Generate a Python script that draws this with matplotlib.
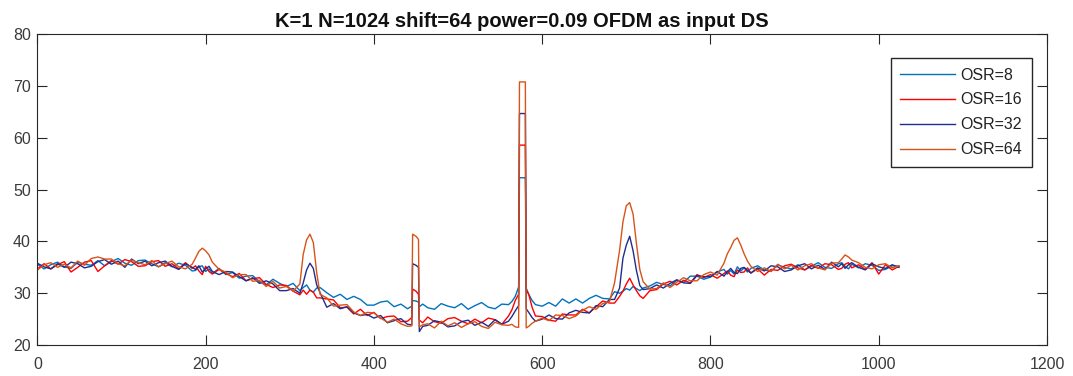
import matplotlib
matplotlib.use("Agg")
import matplotlib.pyplot as plt


# ---------------- DATA ---------------- #

sample_idx = [
    1, 8, 16, 24, 32, 40, 48, 56,
    64, 72, 80, 88, 96, 104, 112, 120,
    128, 136, 144, 152, 160, 168, 176, 184,
    188, 192, 196, 200, 204, 208, 216, 224,
    232, 240, 248, 256, 264, 272, 280, 288,
    296, 304, 312, 316, 320, 324, 328, 332,
    336, 344, 352, 360, 368, 376, 384, 392,
    400, 408, 416, 424, 432, 440, 445, 446,
    450, 453, 454, 458, 464, 472, 480, 488,
    496, 504, 512, 520, 528, 536, 544, 552,
    560, 564, 568, 572, 573, 577, 580, 581,
    584, 588, 592, 600, 608, 616, 624, 632,
    640, 648, 656, 664, 672, 680, 686, 692,
    696, 700, 704, 708, 712, 716, 720, 728,
    736, 744, 752, 760, 768, 776, 784, 792,
    800, 808, 816, 820, 824, 828, 832, 836,
    840, 844, 848, 856, 864, 872, 880, 888,
    896, 904, 912, 920, 928, 936, 944, 952,
    956, 960, 964, 968, 976, 984, 992, 1000,
    1008, 1016, 1024,
]

osr8 = [
    35.5, 34.7, 35.5, 36.0, 35.1, 34.8, 36.0, 35.6,
    35.4, 36.3, 35.3, 36.1, 36.7, 35.8, 35.4, 36.3,
    36.4, 35.7, 35.1, 35.9, 35.1, 35.8, 35.4, 34.3,
    34.4, 35.1, 35.3, 34.2, 34.7, 33.8, 34.8, 33.6,
    34.0, 32.9, 33.3, 33.4, 32.2, 31.6, 32.7, 31.9,
    31.3, 31.9, 30.5, 31.1, 31.6, 30.6, 30.2, 31.0,
    31.1, 30.1, 29.2, 29.8, 28.8, 29.4, 28.8, 27.7,
    27.7, 28.3, 28.5, 27.4, 27.9, 27.0, 27.5, 28.6,
    28.5, 28.3, 27.4, 27.9, 27.2, 26.9, 28.0, 27.5,
    27.2, 28.0, 26.9, 27.6, 28.2, 27.3, 27.0, 27.9,
    27.8, 28.4, 29.4, 31.2, 52.3, 52.3, 52.3, 31.0,
    29.8, 28.6, 27.8, 27.5, 28.2, 27.5, 28.9, 28.1,
    28.9, 28.1, 29.0, 29.6, 29.0, 28.9, 30.3, 30.0,
    30.4, 30.9, 30.6, 31.3, 30.9, 30.5, 31.0, 31.4,
    32.1, 31.7, 31.4, 32.5, 32.1, 33.3, 33.3, 32.7,
    33.1, 34.1, 34.6, 33.7, 34.4, 33.7, 35.1, 34.3,
    34.9, 34.1, 34.8, 35.3, 34.5, 34.2, 35.5, 35.0,
    34.7, 35.5, 34.5, 35.2, 35.9, 35.0, 34.8, 35.7,
    35.9, 35.2, 34.7, 35.6, 34.9, 35.7, 35.4, 34.4,
    34.6, 35.3, 35.2,
]

osr16 = [
    34.8, 35.7, 34.7, 35.5, 36.1, 34.1, 35.0, 36.0,
    36.3, 34.2, 35.3, 36.3, 35.6, 36.5, 36.1, 35.2,
    35.3, 36.1, 36.3, 35.2, 35.7, 34.7, 35.9, 34.8,
    35.3, 34.3, 33.6, 35.2, 34.2, 33.7, 34.6, 33.8,
    33.2, 33.8, 32.4, 32.8, 33.0, 31.7, 31.1, 31.6,
    31.5, 30.4, 29.7, 30.6, 29.8, 30.6, 30.2, 29.1,
    29.1, 28.9, 28.7, 27.2, 27.3, 26.0, 26.9, 25.7,
    26.3, 25.1, 25.5, 25.6, 24.5, 24.6, 25.3, 30.8,
    30.4, 29.8, 24.8, 24.3, 25.4, 24.5, 24.2, 25.1,
    25.3, 24.6, 24.1, 25.0, 24.3, 25.2, 24.9, 24.0,
    25.6, 26.8, 28.6, 29.8, 58.6, 58.6, 58.6, 30.6,
    29.8, 27.3, 25.6, 25.5, 24.8, 24.6, 26.0, 25.8,
    25.8, 26.9, 26.2, 27.4, 28.5, 28.1, 28.1, 29.4,
    30.4, 31.8, 32.9, 31.6, 30.5, 29.5, 29.0, 30.5,
    30.7, 31.8, 32.3, 31.6, 32.5, 32.0, 33.6, 33.0,
    33.6, 32.9, 33.8, 34.3, 33.5, 33.2, 34.5, 34.0,
    34.1, 34.9, 33.9, 34.7, 33.5, 34.6, 34.4, 35.3,
    35.6, 34.9, 34.5, 35.4, 34.8, 35.7, 35.5, 34.6,
    34.8, 35.6, 35.9, 34.9, 35.5, 34.6, 35.9, 33.7,
    35.5, 34.5, 35.2,
]

osr32 = [
    35.7, 35.1, 34.7, 35.7, 35.0, 36.0, 35.7, 34.9,
    35.2, 36.1, 36.5, 35.6, 36.2, 35.0, 36.6, 35.7,
    36.2, 35.3, 35.9, 36.2, 35.2, 34.6, 35.7, 35.0,
    34.6, 35.3, 34.1, 34.7, 35.2, 34.2, 33.6, 34.2,
    34.1, 33.2, 32.4, 33.0, 31.9, 32.4, 31.8, 30.5,
    30.5, 30.9, 30.0, 32.0, 34.5, 35.8, 34.8, 31.6,
    30.1, 27.3, 28.0, 27.0, 27.4, 26.2, 25.7, 25.9,
    25.2, 25.7, 24.3, 24.7, 25.1, 24.0, 23.9, 35.7,
    35.4, 35.0, 22.6, 23.6, 23.8, 24.7, 24.4, 23.5,
    23.7, 24.5, 24.8, 23.8, 24.4, 23.6, 24.9, 24.0,
    24.6, 25.5, 26.6, 27.6, 64.7, 64.7, 64.7, 27.0,
    26.3, 25.3, 24.6, 25.0, 25.8, 25.1, 25.0, 26.2,
    26.7, 26.3, 26.2, 27.6, 27.4, 28.8, 28.8, 31.0,
    36.8, 39.3, 41.0, 38.2, 34.4, 31.5, 30.7, 30.9,
    31.6, 31.0, 31.9, 32.6, 32.0, 31.9, 33.4, 33.2,
    33.2, 34.2, 33.3, 34.1, 34.8, 34.0, 33.8, 34.8,
    35.0, 34.4, 33.9, 34.9, 34.3, 35.3, 35.1, 34.2,
    34.5, 35.3, 35.7, 34.7, 35.4, 34.6, 36.0, 35.1,
    35.7, 34.8, 35.5, 35.9, 35.0, 34.5, 35.7, 35.1,
    34.8, 35.5, 35.0,
]

osr64 = [
    34.6, 35.5, 35.9, 35.0, 35.6, 34.9, 36.2, 35.4,
    36.7, 37.0, 36.6, 36.6, 35.7, 35.3, 36.4, 35.9,
    35.5, 36.3, 35.1, 35.7, 36.2, 35.1, 34.7, 35.6,
    36.8, 38.1, 38.7, 38.2, 37.4, 36.0, 34.6, 34.1,
    33.0, 33.6, 33.6, 32.3, 32.5, 31.3, 32.3, 31.0,
    31.3, 30.4, 31.8, 37.5, 40.3, 41.4, 39.8, 34.0,
    29.8, 29.1, 27.5, 27.7, 27.8, 26.4, 25.7, 26.3,
    26.2, 25.2, 24.4, 25.0, 24.1, 23.6, 23.7, 41.4,
    41.0, 40.4, 23.5, 23.9, 24.1, 23.3, 24.6, 23.7,
    24.3, 23.4, 24.1, 24.5, 23.6, 23.2, 24.4, 23.9,
    23.8, 24.0, 23.5, 23.4, 70.8, 70.8, 70.8, 23.3,
    23.6, 24.2, 24.6, 25.2, 24.7, 25.8, 25.7, 25.1,
    25.6, 26.7, 27.4, 26.9, 28.0, 28.4, 32.0, 38.3,
    43.8, 46.9, 47.5, 45.3, 39.6, 34.6, 32.2, 30.8,
    30.9, 32.0, 31.1, 32.1, 33.0, 32.4, 32.4, 33.6,
    34.1, 33.5, 35.8, 37.6, 38.8, 40.2, 40.7, 39.3,
    37.6, 36.2, 35.2, 34.2, 34.9, 34.2, 35.6, 34.7,
    35.4, 34.5, 35.3, 35.7, 34.9, 34.5, 35.8, 35.9,
    36.6, 37.4, 37.0, 36.4, 35.9, 35.0, 34.7, 35.5,
    35.7, 34.9, 35.3,
]

series_labels = ["OSR=8", "OSR=16", "OSR=32", "OSR=64"]
series_colors = ["#0072BD", "#FF0000", "#1F2E8C", "#D95319"]

x_ticks = [0, 200, 400, 600, 800, 1000, 1200]
y_ticks = [20, 30, 40, 50, 60, 70, 80]


# ---------------- PLOT ---------------- #

plt.rcParams["font.family"] = ["Liberation Sans", "DejaVu Sans"]

fig = plt.figure(figsize=(10.73, 3.76), dpi=100)
ax = fig.add_axes([0.0348, 0.0824, 0.9410, 0.8264])

for values, label, color in zip(
    [osr8, osr16, osr32, osr64], series_labels, series_colors
):
    ax.plot(sample_idx, values, color=color, linewidth=1.0, label=label)

ax.set_xlim(0, 1200)
ax.set_ylim(20, 80)
ax.set_xticks(x_ticks)
ax.set_yticks(y_ticks)

ax.tick_params(
    direction="in",
    length=7,
    width=0.8,
    color="#262626",
    labelcolor="#3a3a3a",
    labelsize=11.5,
    top=True,
    right=True
)
ax.tick_params(axis="x", pad=8.5)
ax.tick_params(axis="y", pad=4.7)

for spine in ax.spines.values():
    spine.set_color("#262626")
    spine.set_linewidth(0.8)

ax.set_title(
    "K=1 N=1024 shift=64 power=0.09 OFDM as input DS",
    fontsize=14.5,
    fontweight="bold",
    color="#111111",
    x=0.48,
    pad=5
)

legend = ax.legend(
    loc="upper right",
    bbox_to_anchor=(0.9847, 0.9237),
    borderaxespad=0,
    fontsize=11.5,
    handlelength=3.4,
    handletextpad=0.35,
    labelspacing=0.62,
    borderpad=0.6,
    fancybox=False,
    framealpha=1
)
legend.get_frame().set_edgecolor("#262626")
legend.get_frame().set_linewidth(1.0)
for text in legend.get_texts():
    text.set_color("#222222")

fig.savefig("out.png", dpi=100)
